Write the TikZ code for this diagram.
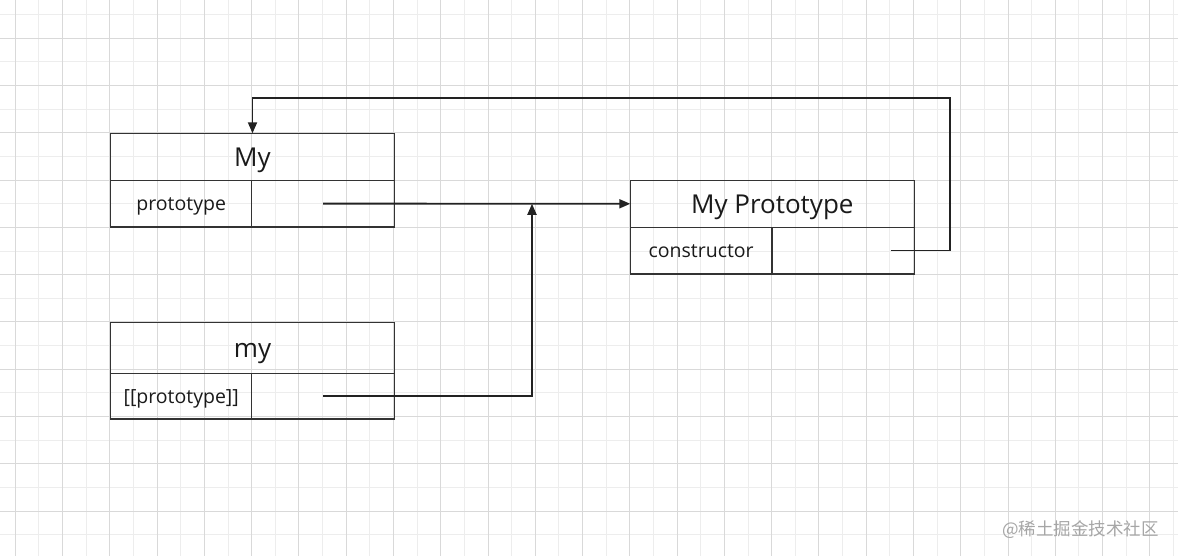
\documentclass[tikz,border=0pt]{standalone}
\usepackage{fontspec}
\setmainfont{Open Sans}
\newfontfamily\cjk{Noto Sans CJK SC}
\usetikzlibrary{arrows.meta}
\definecolor{gridlight}{HTML}{EDEDED}
\definecolor{griddark}{HTML}{D9D9D9}
\definecolor{boxline}{HTML}{333333}
\definecolor{arrline}{HTML}{222222}
\definecolor{txt}{HTML}{1A1A1A}
\tikzset{
  cell/.style={draw=boxline, line width=1.1pt, rectangle, inner sep=0pt, outer sep=0pt, anchor=north west, text=txt, text depth=0pt},
  titlecell/.style={cell, font=\fontsize{26}{30}\selectfont, text height=18.7pt},
  labelcell/.style={cell, font=\fontsize{19.5}{23}\selectfont, text height=14pt},
  conn/.style={draw=arrline, line width=1.9pt, line join=miter, -{Triangle[length=11pt,width=9pt]}},
  wm/.style={text=black!35, font=\cjk\fontsize{17.5}{20}\selectfont, inner sep=0pt}
}
\begin{document}
\begin{tikzpicture}[x=1pt,y=-1pt]
\useasboundingbox (0,0) rectangle (1178,556);
\fill[white] (0,0) rectangle (1178,556);
% grid
\foreach \i in {0,...,49} \draw[gridlight, line width=1pt] ({15.3+23.636*\i},0) -- ({15.3+23.636*\i},556);
\foreach \i in {0,...,22} \draw[gridlight, line width=1pt] (0,{14.7+23.636*\i}) -- (1178,{14.7+23.636*\i});
\foreach \i in {0,...,24} \draw[griddark, line width=1pt] ({15.3+47.272*\i},0) -- ({15.3+47.272*\i},556);
\foreach \i in {0,...,11} \draw[griddark, line width=1pt] (0,{38.3+47.272*\i}) -- (1178,{38.3+47.272*\i});

% My
\node[titlecell, minimum width=283.6pt, minimum height=47pt] (MyT) at (110.7,133.3) {My};
\node[labelcell, minimum width=141pt, minimum height=46.7pt] (MyL) at (110.7,180.3) {prototype};
\node[labelcell, minimum width=142.6pt, minimum height=46.7pt] (MyV) at (251.7,180.3) {};

% my
\node[titlecell, minimum width=283.6pt, minimum height=51pt] (myT) at (110.7,322.3) {my};
\node[labelcell, minimum width=141pt, minimum height=45.7pt] (myL) at (110.7,373.3) {[[prototype]]};
\node[labelcell, minimum width=142.6pt, minimum height=45.7pt] (myV) at (251.7,373.3) {};

% My Prototype
\node[titlecell, minimum width=284pt, minimum height=47pt] (PT) at (630.3,180.3) {My Prototype};
\node[labelcell, minimum width=141.7pt, minimum height=46.7pt] (PL) at (630.3,227.3) {constructor};
\node[labelcell, minimum width=142.3pt, minimum height=46.7pt] (PV) at (772,227.3) {};

\coordinate (cstart) at (890.7,250.5);
\coordinate (corner) at (949.7,98.3);
\coordinate (join) at (532,203.8);

\draw[conn] (MyV.center) -- (PT.west);
\draw[conn] (myV.center) -| (join);
\draw[conn] (cstart) -| (corner) -| (MyT.north);

\node[wm, anchor=west] (wmk) at (1002,530) {@稀土掘金技术社区};
\end{tikzpicture}
\end{document}
